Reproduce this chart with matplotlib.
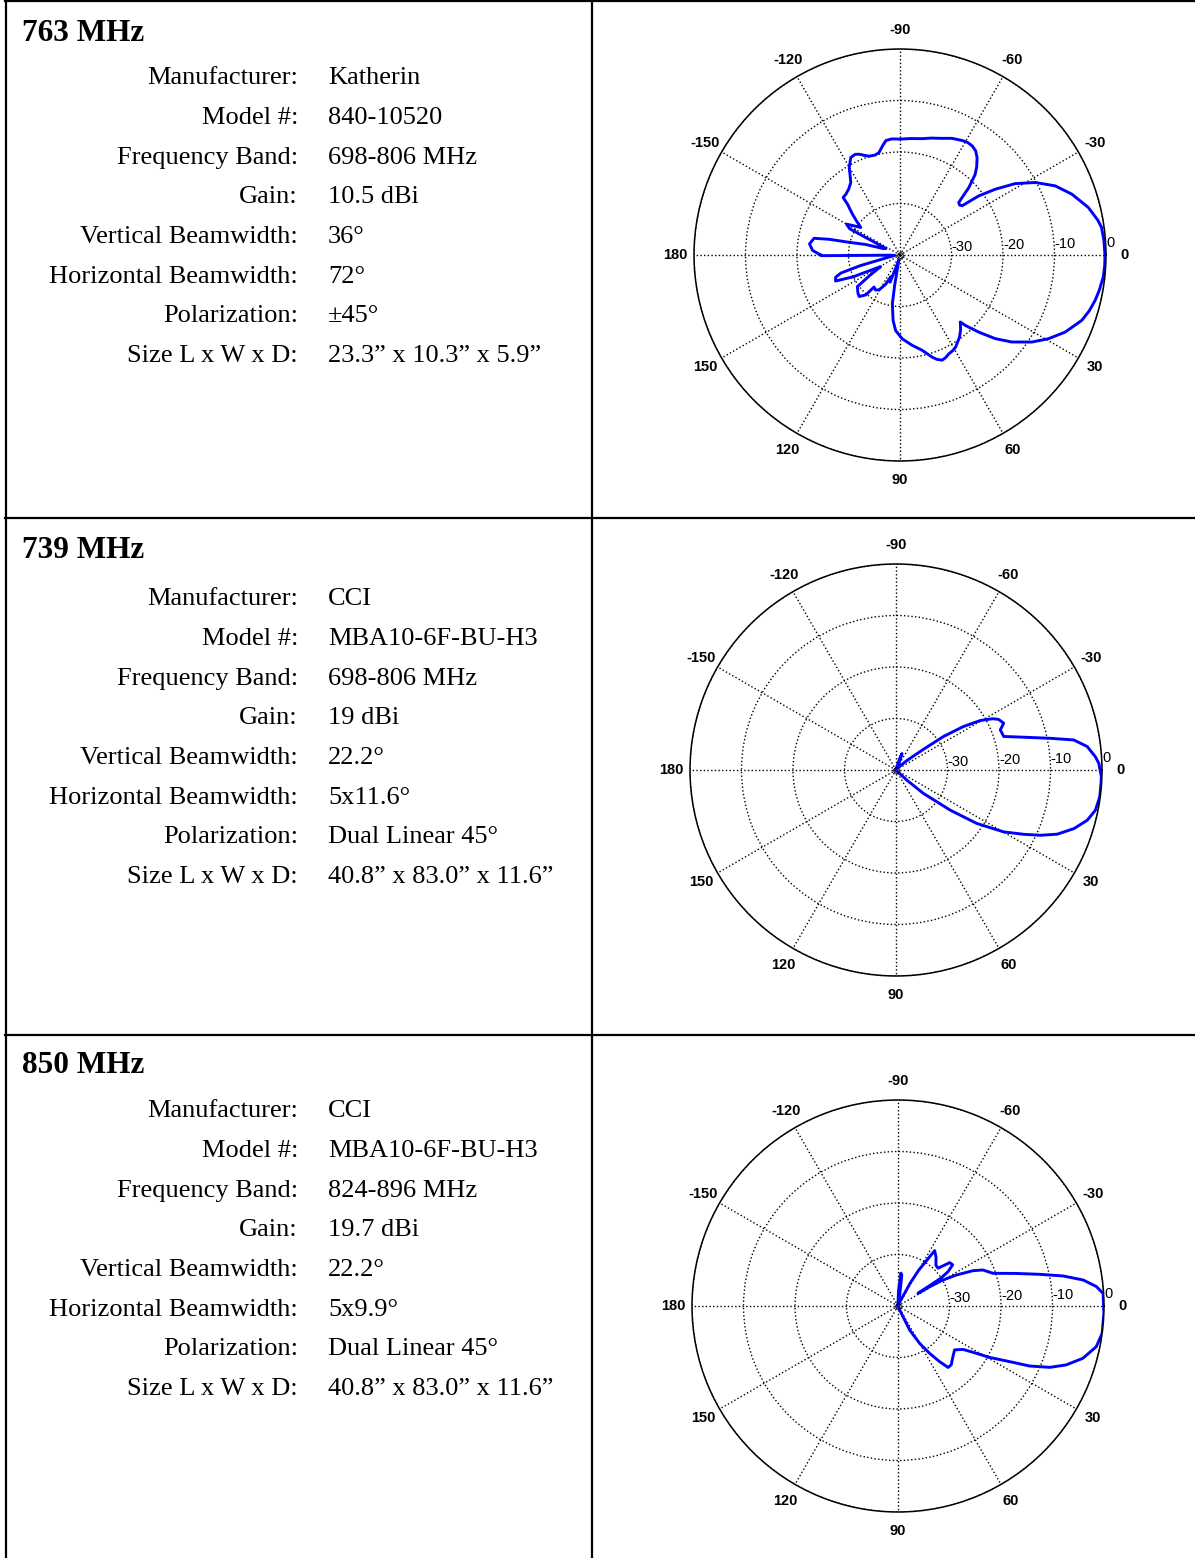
import numpy as np
import matplotlib
matplotlib.use("Agg")
import matplotlib.pyplot as plt
from matplotlib.lines import Line2D

W, H = 1195, 1558

titles = ["763 MHz", "739 MHz", "850 MHz"]
field_names = ["Manufacturer:", "Model #:", "Frequency Band:", "Gain:",
               "Vertical Beamwidth:", "Horizontal Beamwidth:",
               "Polarization:", "Size L x W x D:"]
values_1 = ["Katherin", "840-10520", "698-806 MHz", "10.5 dBi", "36°",
            "72°", "±45°", "23.3” x 10.3” x 5.9”"]
values_2 = ["CCI", "MBA10-6F-BU-H3", "698-806 MHz", "19 dBi", "22.2°",
            "5x11.6°", "Dual Linear 45°", "40.8” x 83.0” x 11.6”"]
values_3 = ["CCI", "MBA10-6F-BU-H3", "824-896 MHz", "19.7 dBi", "22.2°",
            "5x9.9°", "Dual Linear 45°", "40.8” x 83.0” x 11.6”"]

# pattern 1 : angle (deg), gain (dB)
ang_1 = [-180, -177, -173, -169, -167.5, -166, -163, -159, -155, -152.5, -150,
         -144.9, -142.6, -139.3, -135.9, -134.7, -131.7, -128, -124.2, -122, -120.2,
         -116.8, -114, -112, -109, -107.3, -104, -101.6, -99, -97, -94, -90, -85, -79.2,
         -75, -70, -66, -61.5, -59, -56.5, -54, -51.6, -49, -47, -44.4, -41.8, -40,
         -38.4, -36.9, -34.6, -31.8, -28.2, -24, -19.5, -14.2, -10, -7.8, -4, 0, 3,
         6.2, 10, 13.1, 16.5, 19.8, 25, 29.4, 33.4, 37.9, 41.3, 44.4, 47.1, 48, 51,
         54.1, 58.9, 61, 63.7, 66, 68.2, 70.5, 72.5, 76.9, 82.3, 88.4, 93.3,
         96, 98.9, 100, 103, 107, 110, 113, 116, 121, 125, 129, 130.6, 134.5,
         138, 143.4, 146, 149, 152, 155, 158, 161, 163, 165, 170, 175, 179,
         179.5, 180]
gain_1 = [-24.6, -23, -22.3, -23, -25.9, -29.8, -33, -36.5, -37, -29, -28,
          -30.7, -29.6, -27.8, -25.8, -24.3, -24.2, -23.8, -23, -21.7, -20.4,
          -18.8, -18.6, -18.9, -19.6, -19.9, -20, -19.7, -18.5, -17.6, -17.4, -17.5, -17.3, -17,
          -16.5, -15.9, -15.2, -14.7, -14.5, -14.6, -15, -15.9, -17.3, -18.6, -21.3, -24.7, -24.9,
          -24.6, -20.9, -17.5, -13.7, -10.2, -7, -4.6, -2.3, -1, -0.5, -0.3, -0.2, -0.2,
          -0.3, -0.7, -1.1, -1.7, -2.5, -4.6, -6.9, -9.3, -12.5, -15.4, -18.6, -21.3, -22.5, -21.3,
          -20.3, -19.1, -18.8, -18.6, -18.2, -18, -18.5, -19.2, -21, -22.3, -23.7, -25.3,
          -27.2, -30.4, -34, -39, -38, -34.4, -35.4, -33.7, -32.1, -31.7, -32, -29.8, -28.7,
          -29, -29.7, -33, -35.6, -34, -30, -26.5, -26.8, -28, -32, -38, -39, -38,
          -24.8, -24.6]

# pattern 2
ang_2 = [-180, -90, -75, -72, -70, -68, -60, -45, -41, -37, -35.2, -32.8,
         -30.4, -28, -26.3, -23.5, -21, -17.3, -14.4, -11.6, -9.6, -7, -3.8,
         -1.9, 1.9, 3.7, 7.5, 11.4, 14.7, 18.2, 21.7, 24.3, 26.7, 29.9, 33.5,
         36.5, 40.5, 43, 46, 60, 180]
gain_2 = [-40, -40, -39.5, -37.5, -36.6, -38, -39.5, -39, -37.2, -33.3, -28.7, -24.4,
          -21, -18.8, -17.8, -17.2, -18.3, -18.1, -14.4, -9.4, -5, -2.6, -1.2,
          -0.6, -0.1, -0.1, -0.1, -0.5, -1.6, -3.6, -6.3, -9.2, -12.2, -15.9, -21.2,
          -26.9, -33, -37, -39.5, -40, -40]

# pattern 3
ang_3 = [-180, -90, -88, -85, -83, -81, -78, -72, -65, -62, -60, -56.5, -52,
         -47, -43.3, -40, -37, -34.5, -33, -32.3, -31.4, -30, -28, -25.2, -23,
         -19, -15.4, -12.6, -10.3, -8, -5.6, -3.5, 2, 7.6, 11.6, 15.8, 19.3,
         22, 24.5, 26.5, 29.3, 31.1, 33.7, 37.8, 42.6, 47.9, 50.8, 53.2, 56.2,
         59.9, 64.1, 64.9, 67, 70, 180]
gain_3 = [-40, -39.5, -37, -33.6, -34, -38, -39.5, -39.5, -39, -35, -32, -27.1, -28,
          -29.2, -29.3, -26.9, -26.7, -28.2, -30, -35.4, -32.8, -29.9, -27.2, -23.9, -22.1,
          -20.5, -16.2, -11.8, -7.4, -3.7, -1.3, -0.1, 0, 0, -0.7, -2.7, -5.4,
          -8.2, -11.9, -15.8, -19.6, -22.2, -24.8, -26.1, -25.5, -24.6, -24.6, -26.5, -28.9,
          -31.6, -34.8, -37.7, -39.5, -40, -40]

theta_lbl = ["0", "30", "60", "90", "120", "150", "180",
             "-150", "-120", "-90", "-60", "-30"]
r_lbl = ["-30", "-20", "-10", "0"]

panels = [
    dict(title=titles[0], vals=values_1, ang=ang_1, gain=gain_1,
         ty=31, rows=[76, 116, 156, 195, 235, 275, 314, 354], c=(900, 255)),
    dict(title=titles[1], vals=values_2, ang=ang_2, gain=gain_2,
         ty=548, rows=[597, 637, 677, 716, 756, 796, 835, 875], c=(896, 770)),
    dict(title=titles[2], vals=values_3, ang=ang_3, gain=gain_3,
         ty=1063, rows=[1109, 1149, 1189, 1228, 1268, 1308, 1347, 1387], c=(898, 1306)),
]

fig = plt.figure(figsize=(W / 100, H / 100), dpi=100)

serif = "Liberation Serif"
sans = "Liberation Sans"
R = 206

for p in panels:
    fig.text(22 / W, 1 - (p["ty"] + 10) / H, p["title"], family=serif,
             fontsize=22.5, fontweight="bold", ha="left", va="baseline")
    for name, val, y in zip(field_names, p["vals"], p["rows"]):
        fig.text(298 / W, 1 - (y + 8) / H, name, family=serif, fontsize=19,
                 ha="right", va="baseline")
        fig.text(328 / W, 1 - (y + 8) / H, val, family=serif, fontsize=19,
                 ha="left", va="baseline")

    cx, cy = p["c"]
    ax = fig.add_axes([(cx - R) / W, 1 - (cy + R) / H, 2 * R / W, 2 * R / H],
                      projection="polar")
    ax.set_theta_zero_location("E")
    ax.set_theta_direction(-1)
    ax.set_rlim(0, 40)
    ax.set_rticks([10, 20, 30, 40])
    ax.set_yticklabels(r_lbl, family=sans, fontsize=10.5)
    ax.set_rlabel_position(-1.5)
    ax.set_thetagrids(np.arange(0, 360, 30), theta_lbl, family=sans,
                      fontsize=10.5, fontweight="bold")
    ax.tick_params(axis="x", pad=3)
    ax.grid(True, ls=":", color="black", lw=1.0)
    ax.spines["polar"].set_linewidth(1.1)

    r = np.clip(np.array(p["gain"]) + 40, 0, 40)
    ax.plot(np.deg2rad(p["ang"]), r, color="#0000ff", lw=2.1)
    ax.plot([0], [0], "o", mfc="none", mec="black", ms=4, mew=0.8)

# table borders
lw = 1.6
for seg in [((5, 1195), (1, 1)), ((5.5, 5.5), (1, 1558)), ((592, 592), (1, 1558)),
            ((5, 1195), (518.5, 518.5)), ((5, 1195), (1034.5, 1034.5))]:
    xs = [v / W for v in seg[0]]
    ys = [1 - v / H for v in seg[1]]
    fig.add_artist(Line2D(xs, ys, color="black", lw=lw, transform=fig.transFigure))

fig.savefig("out.png", dpi=100)
